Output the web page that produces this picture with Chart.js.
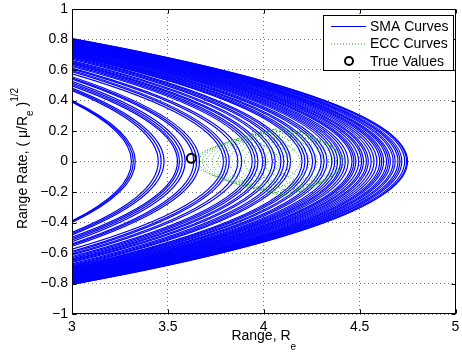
<!DOCTYPE html>
<html>
<head>
<meta charset="utf-8">
<script src="https://cdn.jsdelivr.net/npm/chart.js@4.4.0/dist/chart.umd.min.js"></script>
<style>
  html, body { margin: 0; padding: 0; background: #fff; }
</style>
</head>
<body>
<canvas id="myChart" width="462" height="357"></canvas>
<script>
// SMA curves: range (R_e) where the rate is zero, and rate at range 3
const smaApex = [
  3.31, 3.32, 3.33,
  3.45, 3.465, 3.48,
  3.55, 3.56, 3.575, 3.59,
  3.635, 3.65, 3.665,
  3.79, 3.805, 3.82,
  3.865, 3.885,
  3.94, 3.955, 3.97,
  3.995, 4.01,
  4.045, 4.06,
  4.09, 4.105,
  4.125, 4.14,
  4.2, 4.215, 4.23,
  4.255, 4.27,
  4.3, 4.315, 4.33,
  4.355, 4.37, 4.385,
  4.4, 4.41, 4.425, 4.44,
  4.46, 4.47, 4.48, 4.495,
  4.51, 4.52, 4.535, 4.545,
  4.56, 4.575, 4.59,
  4.605, 4.615, 4.625,
  4.64, 4.65, 4.66,
  4.675, 4.685, 4.7,
  4.71, 4.72, 4.735,
  4.745, 4.75
];
const smaStartRate = [
  0.39, 0.395, 0.40,
  0.465, 0.473, 0.481,
  0.496, 0.505, 0.514, 0.525,
  0.54, 0.547, 0.556,
  0.575, 0.59, 0.597,
  0.606, 0.613,
  0.623, 0.63, 0.638,
  0.645, 0.65,
  0.656, 0.662,
  0.671, 0.678,
  0.684, 0.689,
  0.694, 0.698, 0.702,
  0.706, 0.709,
  0.713, 0.716, 0.72,
  0.723, 0.727, 0.73,
  0.733, 0.736, 0.739, 0.742,
  0.745, 0.748, 0.751, 0.754,
  0.757, 0.76, 0.763, 0.766,
  0.769, 0.772, 0.775,
  0.778, 0.781, 0.784,
  0.786, 0.788, 0.790,
  0.792, 0.794, 0.796,
  0.798, 0.800, 0.802,
  0.804, 0.806
];
const startRange = 3;

// ECC curves: each a lens with a left and right apex on the zero-rate line
const eccLeftApex = [3.64, 3.66, 3.68, 3.70, 3.73, 3.76, 3.79, 3.82, 3.86, 3.90, 3.95, 4.00, 4.05, 4.10];
const eccRightApex = [4.02, 4.08, 4.14, 4.19, 4.24, 4.28, 4.31, 4.34, 4.36, 4.38, 4.40, 4.41, 4.42, 4.42];
const eccTopRange = [3.86, 3.90, 3.94, 3.98, 4.02, 4.05, 4.08, 4.10, 4.13, 4.16, 4.19, 4.22, 4.25, 4.28];
const eccTopRate = [0.14, 0.16, 0.18, 0.19, 0.20, 0.21, 0.22, 0.22, 0.22, 0.21, 0.20, 0.18, 0.16, 0.14];

// true values
const trueRange = [3.622];
const trueRate = [0.021];

const xTicks = [3, 3.5, 4, 4.5, 5];
const xTickLabels = ["3", "3.5", "4", "4.5", "5"];
const yTicks = [-1, -0.8, -0.6, -0.4, -0.2, 0, 0.2, 0.4, 0.6, 0.8, 1];
const yTickLabels = ["\u22121", "\u22120.8", "\u22120.6", "\u22120.4", "\u22120.2", "0", "0.2", "0.4", "0.6", "0.8", "1"];
const legendLabels = ["SMA Curves", "ECC Curves", "True Values"];

const FONT = "Liberation Sans, Arial, Helvetica, sans-serif";
const BLUE = "#0000ff";
const GREEN = "rgb(40,160,40)";

function arc(tipX, tipY, apexX, color, dash, order) {
  return {
    data: [
      { x: tipX, y: tipY },
      { x: apexX, y: 0 },
      { x: tipX, y: -tipY },
    ],
    borderColor: color,
    borderWidth: dash ? 1 : 1.2,
    borderDash: dash || [],
    pointRadius: 0,
    tension: 0.4,
    parabola: true,
    order: order,
  };
}

const datasets = [];
smaApex.forEach(function (apex, i) {
  datasets.push(arc(startRange, smaStartRate[i], apex, BLUE, null, 3));
});
eccLeftApex.forEach(function (apex, i) {
  datasets.push(arc(eccTopRange[i], eccTopRate[i], apex, GREEN, [1, 2], 2));
  datasets.push(arc(eccTopRange[i], eccTopRate[i], eccRightApex[i], GREEN, [1, 2], 2));
});
datasets.push({
  data: trueRange.map(function (x, i) { return { x: x, y: trueRate[i] }; }),
  showLine: false,
  pointRadius: 4.5,
  pointBorderWidth: 2,
  pointBorderColor: "#000",
  pointBackgroundColor: "rgba(0,0,0,0)",
  order: 1,
});

// bend each three-point curve as a parabola through its points
const parabolaCurves = {
  id: "parabolaCurves",
  beforeDatasetDraw: function (chart, args) {
    const ds = chart.data.datasets[args.index];
    if (!ds.parabola) return;
    const meta = args.meta;
    meta.dataset.updateControlPoints(chart.chartArea, meta.iScale.axis);
    const p = meta.data;
    const a = p[0], v = p[1], b = p[2];
    a.cp2x = a.x + (v.x - a.x) * 2 / 3; a.cp2y = a.y + (v.y - a.y) / 3;
    v.cp1x = v.x; v.cp1y = v.y - (v.y - a.y) / 3;
    v.cp2x = v.x; v.cp2y = v.y + (b.y - v.y) / 3;
    b.cp1x = b.x + (v.x - b.x) * 2 / 3; b.cp1y = b.y + (v.y - b.y) / 3;
  },
};

// frame, inward ticks, axis titles with sub/superscripts, legend
const matlabDecor = {
  id: "matlabDecor",
  afterDraw: function (chart) {
    const ctx = chart.ctx;
    const a = chart.chartArea;
    const xs = chart.scales.x, ys = chart.scales.y;
    const L = Math.round(a.left) + 0.5, R = Math.round(a.right) - 0.5;
    const T = Math.round(a.top) + 0.5, B = Math.round(a.bottom) - 0.5;
    ctx.save();
    ctx.strokeStyle = "#000";
    ctx.lineWidth = 1;
    ctx.setLineDash([]);
    ctx.strokeRect(L, T, R - L, B - T);
    ctx.beginPath();
    xTicks.forEach(function (v) {
      const px = Math.round(xs.getPixelForValue(v)) + 0.5;
      ctx.moveTo(px, B); ctx.lineTo(px, B - 4);
      ctx.moveTo(px, T); ctx.lineTo(px, T + 4);
    });
    yTicks.forEach(function (v) {
      const py = Math.round(ys.getPixelForValue(v)) + 0.5;
      ctx.moveTo(L, py); ctx.lineTo(L + 4, py);
      ctx.moveTo(R, py); ctx.lineTo(R - 4, py);
    });
    ctx.stroke();

    ctx.fillStyle = "#000";
    ctx.textBaseline = "alphabetic";
    ctx.textAlign = "left";
    function runs(list, cx, cy, rotate) {
      let total = 0;
      list.forEach(function (r) {
        ctx.font = r.s + "px " + FONT;
        r.w = ctx.measureText(r.t).width;
        total += r.w;
      });
      ctx.save();
      ctx.translate(cx, cy);
      if (rotate) ctx.rotate(-Math.PI / 2);
      let u = -total / 2;
      list.forEach(function (r) {
        ctx.font = r.s + "px " + FONT;
        ctx.fillText(r.t, u, r.dy);
        u += r.w;
      });
      ctx.restore();
    }
    runs([
      { t: "Range, R", s: 14, dy: 0 },
      { t: "e", s: 10, dy: 10 },
    ], (a.left + a.right) / 2, 340, false);
    runs([
      { t: "Range Rate, ( \u03bc/R", s: 14, dy: 0 },
      { t: "e", s: 10, dy: 6 },
      { t: " )", s: 14, dy: 0 },
      { t: "1/2", s: 10, dy: -9 },
    ], 27, 158.5, true);

    // legend
    const bx = 323.5, by = 15.5, bw = 130, bh = 55;
    ctx.fillStyle = "#fff";
    ctx.fillRect(bx, by, bw, bh);
    ctx.strokeStyle = "#000";
    ctx.strokeRect(bx, by, bw, bh);
    const rows = [26, 43.5, 61];
    ctx.lineWidth = 1;
    ctx.strokeStyle = BLUE;
    ctx.beginPath(); ctx.moveTo(331, rows[0] + 0.5); ctx.lineTo(366, rows[0] + 0.5); ctx.stroke();
    ctx.strokeStyle = GREEN;
    ctx.setLineDash([1, 2]);
    ctx.beginPath(); ctx.moveTo(331, rows[1] + 0.5); ctx.lineTo(366, rows[1] + 0.5); ctx.stroke();
    ctx.setLineDash([]);
    ctx.strokeStyle = "#000";
    ctx.lineWidth = 2;
    ctx.beginPath(); ctx.arc(349, rows[2], 4, 0, Math.PI * 2); ctx.stroke();
    ctx.fillStyle = "#000";
    ctx.font = "14px " + FONT;
    ctx.textBaseline = "middle";
    legendLabels.forEach(function (t, i) {
      ctx.fillText(t, 370, rows[i] + 1);
    });
    ctx.restore();
  },
};

new Chart(document.getElementById("myChart"), {
  type: "line",
  data: { datasets: datasets },
  options: {
    responsive: false,
    animation: false,
    events: [],
    layout: { padding: { top: 9, right: 2, left: 0, bottom: 0 } },
    plugins: { legend: { display: false }, tooltip: { enabled: false } },
    scales: {
      x: {
        type: "linear",
        min: 3,
        max: 5,
        afterBuildTicks: function (s) { s.ticks = xTicks.map(function (v) { return { value: v }; }); },
        afterFit: function (s) { s.height = 43; s.paddingLeft = 0; s.paddingRight = 0; },
        ticks: {
          callback: function (v, i) { return xTickLabels[i]; },
          font: { family: FONT, size: 14 },
          color: "#000",
          padding: 5,
          maxRotation: 0,
          autoSkip: false,
        },
        grid: { color: "rgba(0,0,0,0.55)", lineWidth: 1, drawTicks: false },
        border: { display: false, dash: [1, 3] },
      },
      y: {
        min: -1,
        max: 1,
        afterBuildTicks: function (s) { s.ticks = yTicks.map(function (v) { return { value: v }; }); },
        afterFit: function (s) { s.width = 72; s.paddingTop = 0; s.paddingBottom = 0; },
        ticks: {
          callback: function (v, i) { return yTickLabels[i]; },
          font: { family: FONT, size: 14 },
          color: "#000",
          padding: 4,
          autoSkip: false,
        },
        grid: { color: "rgba(0,0,0,0.55)", lineWidth: 1, drawTicks: false },
        border: { display: false, dash: [1, 3] },
      },
    },
  },
  plugins: [parabolaCurves, matlabDecor],
});
</script>
</body>
</html>
